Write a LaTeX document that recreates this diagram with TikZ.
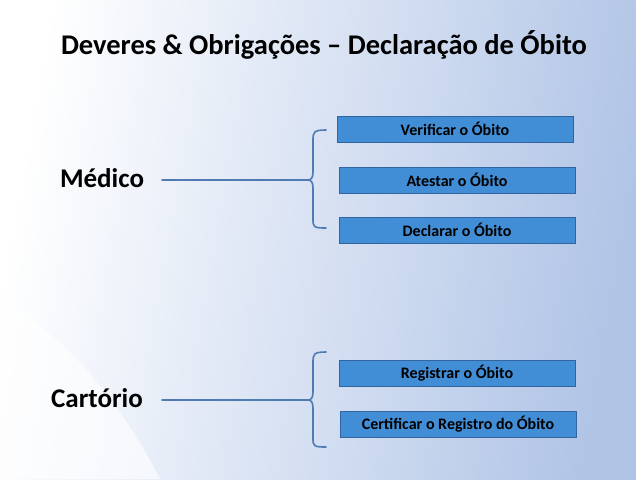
\documentclass[tikz,border=0pt]{standalone}
\usepackage{fontspec}
\setmainfont{Carlito}
\definecolor{bgblue}{RGB}{176,196,230}
\definecolor{boxblue}{RGB}{66,142,214}
\definecolor{boxedge}{RGB}{50,100,160}
\definecolor{linec}{RGB}{79,122,180}
\begin{document}
\begin{tikzpicture}[x=1pt,y=-1pt,
  task/.style={draw=boxedge,fill=boxblue,minimum width=236pt,minimum height=26pt,inner sep=0pt,font=\bfseries\fontsize{16}{18}\selectfont},
  who/.style={font=\bfseries\fontsize{27}{31}\selectfont},
  conn/.style={draw=linec,line width=1.6pt,line cap=round}]
\useasboundingbox (0,0) rectangle (636,479);
\shade[left color=white,right color=bgblue,shading angle=80] (0,0) rectangle (636,479);
\fill[white,opacity=0.6] (0,300) .. controls (60,330) and (120,400) .. (160,479) -- (0,479) -- cycle;
\node[font=\bfseries\fontsize{28.5}{32}\selectfont] (title) at (324,45) {Deveres \& Obrigações – Declaração de Óbito};
\node[task] (b1) at (455,129) {Verificar o Óbito};
\node[task] (b2) at (457,180) {Atestar o Óbito};
\node[task] (b3) at (457,230) {Declarar o Óbito};
\node[task] (b4) at (457,373) {Registrar o Óbito};
\node[task] (b5) at (458,424) {Certificar o Registro do Óbito};
\node[who] (m) at (102,178) {Médico};
\node[who] (c) at (97,398) {Cartório};
\coordinate (mj) at (308,180);
\coordinate (cj) at (308,400);
\draw[conn] (162,180) -- (mj);
\draw[conn] (162,400) -- (cj);
\draw[conn] (326,130) .. controls (314,130) and (313,132) .. (313,140) -- (313,172) .. controls (313,178) and (311,180) .. (mj)
  .. controls (311,180) and (313,182) .. (313,188) -- (313,220) .. controls (313,227) and (314,228) .. (326,228);
\draw[conn] (326,352) .. controls (314,352) and (313,354) .. (313,362) -- (313,392) .. controls (313,398) and (311,400) .. (cj)
  .. controls (311,400) and (313,402) .. (313,408) -- (313,439) .. controls (313,446) and (314,447) .. (326,447);
\end{tikzpicture}
\end{document}
